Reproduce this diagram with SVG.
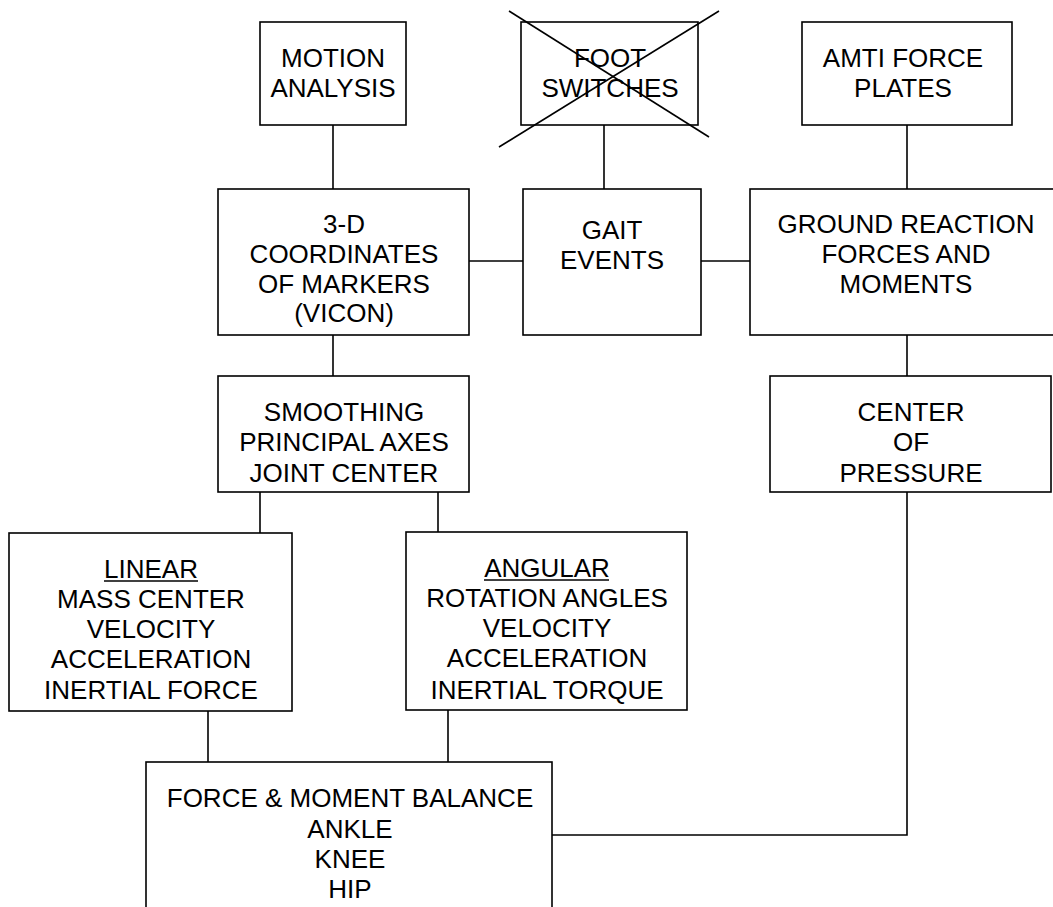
<svg xmlns="http://www.w3.org/2000/svg" width="1053" height="907" viewBox="0 0 1053 907">
<style>
rect.box{fill:#fff;stroke:#000;stroke-width:1.6}
line,path.c{stroke:#000;stroke-width:1.6;fill:none}
text{font-family:"Liberation Sans",Arial,sans-serif;font-size:26px;fill:#000;text-anchor:middle}
</style>
<rect width="1053" height="907" fill="#fff"/>
<g id="connectors">
<line x1="333" y1="125" x2="333" y2="189"/>
<line x1="604" y1="125" x2="604" y2="189"/>
<line x1="907" y1="125" x2="907" y2="189"/>
<line x1="469" y1="261" x2="523" y2="261"/>
<line x1="701" y1="261" x2="750" y2="261"/>
<line x1="333" y1="335" x2="333" y2="376"/>
<line x1="907" y1="335" x2="907" y2="376"/>
<line x1="260" y1="492" x2="260" y2="533"/>
<line x1="438" y1="492" x2="438" y2="533"/>
<line x1="208" y1="711" x2="208" y2="762"/>
<line x1="448" y1="710" x2="448" y2="762"/>
<path class="c" d="M552 835 H907 V492"/>
</g>
<g id="motion-analysis">
<rect class="box" x="260" y="22" width="146" height="103"/>
<text x="333" y="67">MOTION</text>
<text x="333" y="97">ANALYSIS</text>
</g>
<g id="foot-switches">
<rect class="box" x="521" y="22" width="177" height="103"/>
<text x="610" y="67">FOOT</text>
<text x="610" y="97">SWITCHES</text>
<line x1="509" y1="11" x2="709" y2="137"/>
<line x1="719" y1="11" x2="499" y2="147"/>
</g>
<g id="amti-force-plates">
<rect class="box" x="802" y="22" width="210" height="103"/>
<text x="903" y="67">AMTI FORCE</text>
<text x="903" y="97">PLATES</text>
</g>
<g id="coordinates">
<rect class="box" x="218" y="189" width="251" height="146"/>
<text x="344" y="233">3-D</text>
<text x="344" y="263">COORDINATES</text>
<text x="344" y="293">OF MARKERS</text>
<text x="344" y="322">(VICON)</text>
</g>
<g id="gait-events">
<rect class="box" x="523" y="189" width="178" height="146"/>
<text x="612" y="239">GAIT</text>
<text x="612" y="269">EVENTS</text>
</g>
<g id="ground-reaction">
<rect class="box" x="750" y="189" width="320" height="146"/>
<text x="906" y="233">GROUND REACTION</text>
<text x="906" y="263">FORCES AND</text>
<text x="906" y="293">MOMENTS</text>
</g>
<g id="smoothing">
<rect class="box" x="218" y="376" width="251" height="116"/>
<text x="344" y="421">SMOOTHING</text>
<text x="344" y="451">PRINCIPAL AXES</text>
<text x="344" y="482">JOINT CENTER</text>
</g>
<g id="center-of-pressure">
<rect class="box" x="770" y="376" width="281" height="116"/>
<text x="911" y="421">CENTER</text>
<text x="911" y="451">OF</text>
<text x="911" y="482">PRESSURE</text>
</g>
<g id="linear">
<rect class="box" x="9" y="533" width="283" height="178"/>
<text x="151" y="578">LINEAR</text>
<line x1="104" y1="581" x2="198" y2="581"/>
<text x="151" y="608">MASS CENTER</text>
<text x="151" y="638">VELOCITY</text>
<text x="151" y="668">ACCELERATION</text>
<text x="151" y="699">INERTIAL FORCE</text>
</g>
<g id="angular">
<rect class="box" x="406" y="532" width="281" height="178"/>
<text x="547" y="577">ANGULAR</text>
<line x1="484" y1="580" x2="609" y2="580"/>
<text x="547" y="607">ROTATION ANGLES</text>
<text x="547" y="637">VELOCITY</text>
<text x="547" y="667">ACCELERATION</text>
<text x="547" y="699">INERTIAL TORQUE</text>
</g>
<g id="force-moment-balance">
<rect class="box" x="146" y="762" width="406" height="160"/>
<text x="350" y="807">FORCE &amp; MOMENT BALANCE</text>
<text x="350" y="838">ANKLE</text>
<text x="350" y="868">KNEE</text>
<text x="350" y="898">HIP</text>
</g>
</svg>
